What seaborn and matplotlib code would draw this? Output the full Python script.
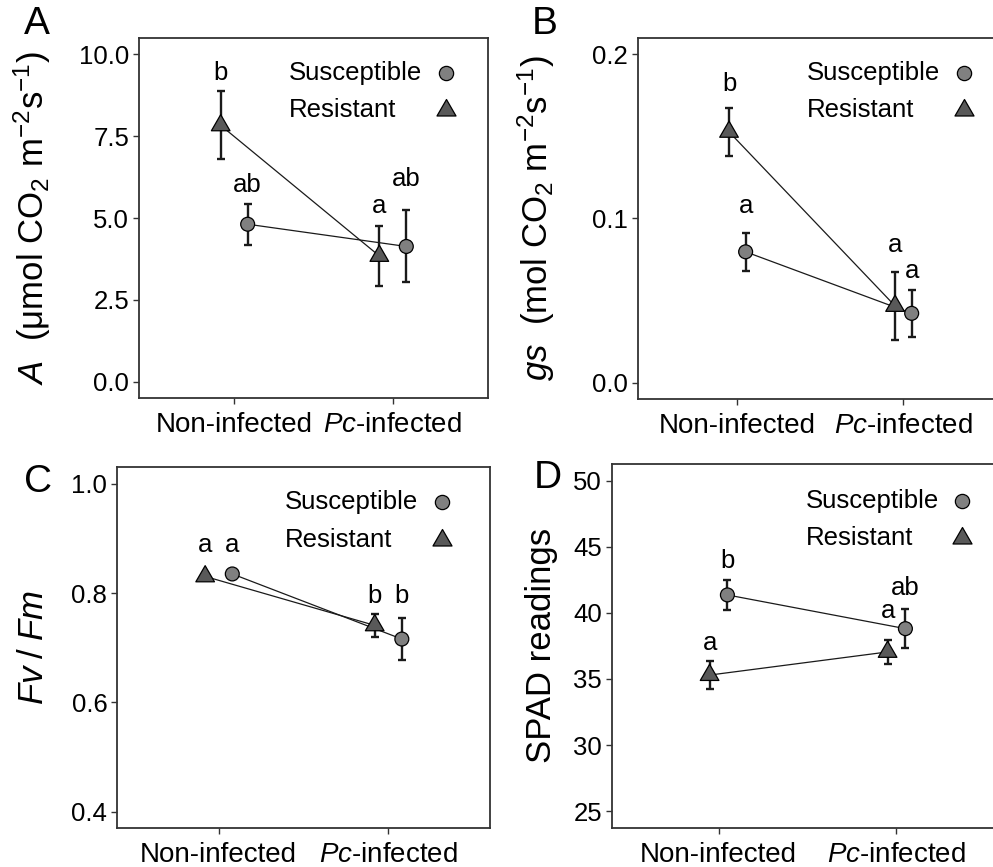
import numpy as np
import pandas as pd
import matplotlib
matplotlib.use("Agg")
import matplotlib.pyplot as plt
from matplotlib.path import Path
import seaborn as sns

sns.set_theme(style="white")
plt.rcParams["font.family"] = ["Liberation Sans", "DejaVu Sans"]
plt.rcParams["mathtext.fontset"] = "custom"
plt.rcParams["mathtext.rm"] = "Liberation Sans"
plt.rcParams["mathtext.it"] = "Liberation Sans:italic"
plt.rcParams["mathtext.bf"] = "Liberation Sans:bold"

# ---------------- data ----------------
treatments = ["Non-infected", "Pc-infected"]
tick_labels_x = ["Non-infected", r"$\mathit{Pc}$-infected"]
genotypes = ["Susceptible", "Resistant"]

# Panel A: net photosynthesis
a_sus_mean = [4.81, 4.13]
a_sus_se = [0.62, 1.10]
a_res_mean = [7.83, 3.84]
a_res_se = [1.04, 0.93]
a_sus_letters = ["ab", "ab"]
a_res_letters = ["b", "a"]
a_sus_letter_y = [6.00, 6.18]
a_res_letter_y = [9.43, 5.37]
a_yticks = [0.0, 2.5, 5.0, 7.5, 10.0]

# Panel B: stomatal conductance
b_sus_mean = [0.0797, 0.0422]
b_sus_se = [0.0115, 0.0142]
b_res_mean = [0.1528, 0.0467]
b_res_se = [0.0147, 0.0208]
b_sus_letters = ["a", "a"]
b_res_letters = ["b", "a"]
b_sus_letter_y = [0.1077, 0.0682]
b_res_letter_y = [0.1818, 0.0838]
b_yticks = [0.0, 0.1, 0.2]

# Panel C: Fv/Fm
c_sus_mean = [0.835, 0.716]
c_sus_se = [0.003, 0.0385]
c_res_mean = [0.8305, 0.741]
c_res_se = [0.003, 0.0217]
c_sus_letters = ["a", "b"]
c_res_letters = ["a", "b"]
c_sus_letter_y = [0.888, 0.794]
c_res_letter_y = [0.888, 0.794]
c_yticks = [0.4, 0.6, 0.8, 1.0]

# Panel D: SPAD
d_sus_mean = [41.35, 38.80]
d_sus_se = [1.13, 1.50]
d_res_mean = [35.29, 37.04]
d_res_se = [1.04, 0.92]
d_sus_letters = ["b", "ab"]
d_res_letters = ["a", "a"]
d_sus_letter_y = [43.88, 41.90]
d_res_letter_y = [37.70, 40.17]
d_yticks = [25, 30, 35, 40, 45, 50]

# ---------------- style ----------------
W, H = 993, 867
fill = {"Susceptible": "#808080", "Resistant": "#595959"}
tri = Path([(0, 1), (-0.866, -0.5), (0.866, -0.5), (0, 1)],
           [Path.MOVETO, Path.LINETO, Path.LINETO, Path.CLOSEPOLY])
markers = {"Susceptible": "o", "Resistant": tri}
sizes = {"Susceptible": 100, "Resistant": 240}
border = "#333333"

fig = plt.figure(figsize=(W / 100, H / 100), dpi=100)


def px_axes(left, top, right, bottom):
    return fig.add_axes([left / W, 1 - bottom / H, (right - left) / W, (bottom - top) / H])


def panel(ax, sus_mean, sus_se, res_mean, res_se, sus_let, res_let, sus_ly, res_ly,
          yticks, yfmt, dodge, ylabel, label_x, leg):
    rows = []
    for i, t in enumerate(treatments):
        rows.append(dict(treatment=t, genotype="Susceptible", mean=sus_mean[i], se=sus_se[i],
                         x=i + 1 + dodge, letter=sus_let[i], ly=sus_ly[i]))
        rows.append(dict(treatment=t, genotype="Resistant", mean=res_mean[i], se=res_se[i],
                         x=i + 1 - dodge, letter=res_let[i], ly=res_ly[i]))
    df = pd.DataFrame(rows)
    sns.lineplot(data=df, x="x", y="mean", units="genotype", estimator=None, color="#1a1a1a",
                 lw=0.9, ax=ax, legend=False, sort=False, zorder=2)
    ax.errorbar(df["x"], df["mean"], yerr=df["se"], fmt="none", ecolor="#1a1a1a",
                elinewidth=1.7, capsize=3.2, capthick=1.7, zorder=2.5)
    sns.scatterplot(data=df, x="x", y="mean", hue="genotype", style="genotype", size="genotype",
                    palette=fill, markers=markers, sizes=sizes, edgecolor="black", linewidth=0.9,
                    ax=ax, legend=False, zorder=3)
    for _, r in df.iterrows():
        ax.text(r["x"], r["ly"], r["letter"], ha="center", va="center", fontsize=18.5, color="black")

    lo, hi = yticks[0], yticks[-1]
    pad = (hi - lo) * 0.05
    ax.set_ylim(lo - pad, hi + pad)
    ax.set_xlim(0.4, 2.6)
    ax.set_yticks(yticks)
    ax.set_yticklabels([yfmt.format(v) for v in yticks], fontsize=18.5, color="black")
    ax.set_xticks([1, 2])
    ax.set_xticklabels(tick_labels_x, fontsize=20, color="black")
    ax.tick_params(axis="both", which="both", bottom=True, left=True, direction="out",
                   length=4, width=1.0, color=border)
    ax.tick_params(axis="y", pad=3)
    ax.tick_params(axis="x", pad=6)
    for s in ax.spines.values():
        s.set_visible(True)
        s.set_color(border)
        s.set_linewidth(1.3)
    ax.set_xlabel("")
    ax.set_ylabel(ylabel, fontsize=25, color="black")
    ax.yaxis.set_label_coords(label_x, 0.5)

    tx, mx, y1, y2 = leg
    ax.text(tx, y1, "Susceptible", transform=ax.transAxes, ha="left", va="center",
            fontsize=18.5, color="black")
    ax.text(tx, y2, "Resistant", transform=ax.transAxes, ha="left", va="center",
            fontsize=18.5, color="black")
    ax.scatter([mx], [y1], transform=ax.transAxes, marker="o", s=105, c=fill["Susceptible"],
               edgecolors="black", linewidths=0.9, clip_on=False, zorder=4)
    ax.scatter([mx], [y2], transform=ax.transAxes, marker=tri, s=250, c=fill["Resistant"],
               edgecolors="black", linewidths=0.9, clip_on=False, zorder=4)


axA = px_axes(139, 38, 488, 398)
axB = px_axes(637.7, 38, 1003, 399)
axC = px_axes(117, 467.3, 490, 828.3)
axD = px_axes(611.7, 464, 1003.3, 827.7)

panel(axA, a_sus_mean, a_sus_se, a_res_mean, a_res_se, a_sus_letters, a_res_letters,
      a_sus_letter_y, a_res_letter_y, a_yticks, "{:.1f}", 0.085,
      r"$\mathit{A}$  ($\mathrm{\mu}$mol CO$_2$ m$^{-2}$s$^{-1}$)", -0.245,
      (0.43, 0.88, 0.904, 0.80))
panel(axB, b_sus_mean, b_sus_se, b_res_mean, b_res_se, b_sus_letters, b_res_letters,
      b_sus_letter_y, b_res_letter_y, b_yticks, "{:.1f}", 0.05,
      r"$\mathit{gs}$  (mol CO$_2$ m$^{-2}$s$^{-1}$)", -0.221,
      (0.463, 0.893, 0.904, 0.80))
panel(axC, c_sus_mean, c_sus_se, c_res_mean, c_res_se, c_sus_letters, c_res_letters,
      c_sus_letter_y, c_res_letter_y, c_yticks, "{:.1f}", 0.08,
      r"$\mathit{Fv}\;/\;\mathit{Fm}$", -0.18,
      (0.45, 0.87, 0.905, 0.80))
panel(axD, d_sus_mean, d_sus_se, d_res_mean, d_res_se, d_sus_letters, d_res_letters,
      d_sus_letter_y, d_res_letter_y, d_yticks, "{:d}", 0.05,
      "SPAD readings", -0.137,
      (0.496, 0.894, 0.899, 0.796))

for lab, x, y in [("A", 37, 24), ("B", 545, 24), ("C", 38, 482), ("D", 548, 478)]:
    fig.text(x / W, 1 - y / H, lab, ha="center", va="center", fontsize=28, color="black")

fig.savefig("out.png", dpi=100)
